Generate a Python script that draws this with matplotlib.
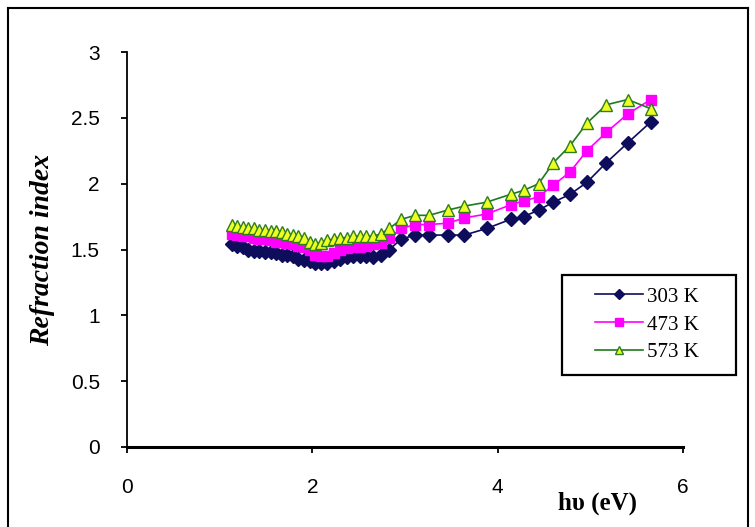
import matplotlib
matplotlib.use("Agg")
import matplotlib.pyplot as plt
from matplotlib.lines import Line2D
from matplotlib.patches import Rectangle

energy = [1.13, 1.19, 1.25, 1.31, 1.37, 1.43, 1.49, 1.55, 1.61, 1.67, 1.73, 1.79, 1.85, 1.91,
          1.97, 2.03, 2.09, 2.16, 2.23, 2.30, 2.37, 2.44, 2.51, 2.58, 2.65, 2.74, 2.83, 2.96,
          3.11, 3.26, 3.46, 3.64, 3.88, 4.14, 4.28, 4.44, 4.60, 4.78, 4.96, 5.17, 5.40, 5.65]
n_303 = [1.54, 1.53, 1.52, 1.50, 1.49, 1.49, 1.48, 1.48, 1.47, 1.46, 1.46, 1.45, 1.43, 1.42,
         1.41, 1.40, 1.40, 1.40, 1.41, 1.43, 1.44, 1.45, 1.45, 1.45, 1.44, 1.46, 1.50, 1.58,
         1.61, 1.61, 1.61, 1.61, 1.66, 1.73, 1.75, 1.80, 1.86, 1.92, 2.01, 2.16, 2.31, 2.47]
n_473 = [1.62, 1.61, 1.60, 1.60, 1.59, 1.58, 1.58, 1.57, 1.56, 1.56, 1.55, 1.54, 1.53, 1.52,
         1.50, 1.46, 1.45, 1.45, 1.47, 1.50, 1.51, 1.52, 1.52, 1.53, 1.54, 1.55, 1.59, 1.66,
         1.69, 1.69, 1.70, 1.74, 1.77, 1.84, 1.87, 1.90, 1.99, 2.09, 2.25, 2.39, 2.53, 2.64]
n_573 = [1.69, 1.68, 1.67, 1.66, 1.66, 1.65, 1.65, 1.64, 1.64, 1.63, 1.62, 1.61, 1.60, 1.59,
         1.56, 1.54, 1.55, 1.57, 1.58, 1.59, 1.59, 1.60, 1.60, 1.60, 1.60, 1.62, 1.66, 1.73,
         1.76, 1.76, 1.80, 1.83, 1.86, 1.92, 1.95, 2.00, 2.16, 2.29, 2.46, 2.60, 2.64, 2.57]
labels = ["303 K", "473 K", "573 K"]
x_ticks = [0, 2, 4, 6]
y_ticks = [0, 0.5, 1, 1.5, 2, 2.5, 3]
y_tick_labels = ["0", "0.5", "1", "1.5", "2", "2.5", "3"]

fig = plt.figure(figsize=(7.55, 5.27), dpi=100)
ax = fig.add_axes([0.168, 0.152, 0.737, 0.749])

ax.plot(energy, n_303, color="#0d0d5c", lw=1.2, marker="D", ms=6.8,
        mfc="#0d0d5c", mec="#0d0d5c", label=labels[0])
ax.plot(energy, n_473, color="#ff00ff", lw=1.2, marker="s", ms=6.5,
        mfc="#ff00ff", mec="#ff00ff", label=labels[1])
ax.plot(energy, n_573, color="#1e7a1e", lw=1.2, marker="^", ms=8,
        mfc="#eeff22", mec="#2e7d1e", mew=1.0, label=labels[2])

ax.set_xlim(0, 6)
ax.set_ylim(0, 3)
ax.set_xticks(x_ticks)
ax.set_yticks(y_ticks)
ax.set_yticklabels(y_tick_labels)
for s in ["top", "right"]:
    ax.spines[s].set_visible(False)
ax.spines["left"].set_linewidth(1.3)
ax.spines["bottom"].set_linewidth(2.2)
ax.tick_params(axis="both", direction="out", length=4.5, width=1.3,
               labelsize=15)
ax.tick_params(axis="y", pad=15)
ax.tick_params(axis="x", pad=18)
for lab in ax.get_xticklabels() + ax.get_yticklabels():
    lab.set_family("Liberation Sans")

ax.set_ylabel("Refraction index", family="Liberation Serif", style="italic",
              weight="bold", fontsize=20, labelpad=11)
fig.text(0.791, 0.0455, "h\u03c5 (eV)", family="Liberation Serif", weight="bold",
         fontsize=18, ha="center", va="center")

# legend frame (drawn separately to match the reference box size)
ax.add_patch(Rectangle((0.782, 0.182), 0.312, 0.253, transform=ax.transAxes,
                       fill=False, edgecolor="black", lw=1.6, clip_on=False, zorder=5))
leg = ax.legend(loc="upper left", bbox_to_anchor=(0.842, 0.405), frameon=False,
                prop={"family": "Liberation Serif", "size": 15},
                handlelength=2.3, handletextpad=0.2, borderpad=0.0,
                borderaxespad=0.0, labelspacing=0.4, markerscale=0.8)

# outer frame
fig.add_artist(Line2D([8/755, 8/755], [0, 1 - 8/527], transform=fig.transFigure, color="black", lw=1.5))
fig.add_artist(Line2D([748/755, 748/755], [0, 1 - 8/527], transform=fig.transFigure, color="black", lw=1.5))
fig.add_artist(Line2D([8/755, 748/755], [1 - 8/527, 1 - 8/527], transform=fig.transFigure, color="black", lw=1.5))

fig.savefig("out.png", dpi=100)
